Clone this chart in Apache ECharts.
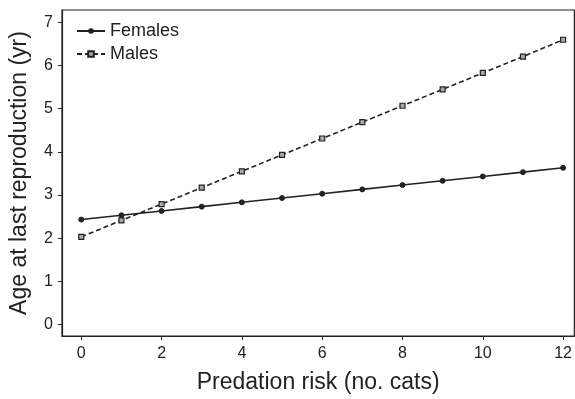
<!DOCTYPE html>
<html>
<head>
<meta charset="utf-8">
<script src="https://cdn.jsdelivr.net/npm/echarts@6/dist/echarts.min.js"></script>
<style>
  html, body { margin: 0; padding: 0; background: #fff; }
  #chart { width: 575px; height: 399px; }
</style>
</head>
<body>
<div id="chart"></div>
<script>
// predation risk (number of cats)
const cats = [0, 1, 2, 3, 4, 5, 6, 7, 8, 9, 10, 11, 12];
const females = [2.43, 2.53, 2.63, 2.73, 2.83, 2.93, 3.03, 3.13, 3.23, 3.33, 3.43, 3.53, 3.63];
const males = [2.03, 2.41, 2.79, 3.17, 3.55, 3.93, 4.31, 4.69, 5.07, 5.45, 5.83, 6.21, 6.60];
const xTicks = [0, 2, 4, 6, 8, 10, 12];
const yTicks = [0, 1, 2, 3, 4, 5, 6, 7];

const ink = '#222';
const font = '"Liberation Sans", Arial, sans-serif';

const chart = echarts.init(document.getElementById('chart'));

const pairs = (ys) => cats.map((c, i) => [c, ys[i]]);

chart.setOption({
  animation: false,
  textStyle: { fontFamily: font },
  grid: {
    left: 62, right: -2, top: 10, bottom: 58,
    show: true, borderColor: ink, borderWidth: 1.2
  },
  legend: {
    left: 71, top: 17, orient: 'vertical',
    itemWidth: 28, itemHeight: 7, itemGap: 5,
    textStyle: { color: ink, fontSize: 18, fontFamily: font },
    data: ['Females', 'Males']
  },
  xAxis: {
    type: 'value', min: -0.48, max: 12.28,
    name: 'Predation risk (no. cats)', nameLocation: 'middle', nameGap: 35,
    nameTextStyle: { color: ink, fontSize: 23, fontFamily: font },
    axisLine: { show: true, onZero: false, lineStyle: { color: ink, width: 1.2 } },
    axisTick: { show: true, length: 4, customValues: xTicks, lineStyle: { color: ink } },
    axisLabel: { customValues: xTicks, color: ink, fontSize: 16, margin: 10 },
    splitLine: { show: false }
  },
  yAxis: {
    type: 'value', min: -0.27, max: 7.29,
    name: 'Age at last reproduction (yr)', nameLocation: 'middle', nameGap: 31,
    nameTextStyle: { color: ink, fontSize: 23, fontFamily: font },
    axisLine: { show: true, onZero: false, lineStyle: { color: ink, width: 1.2 } },
    axisTick: { show: true, length: 4, customValues: yTicks, lineStyle: { color: ink } },
    axisLabel: { customValues: yTicks, color: ink, fontSize: 16, margin: 9 },
    splitLine: { show: false }
  },
  series: [
    {
      name: 'Females', type: 'line', data: pairs(females),
      symbol: 'circle', symbolSize: 5,
      lineStyle: { color: ink, width: 1.6 },
      itemStyle: { color: ink, borderColor: ink }
    },
    {
      name: 'Males', type: 'line', data: pairs(males),
      symbol: 'rect', symbolSize: 5,
      lineStyle: { color: ink, width: 1.6, type: [5, 3] },
      itemStyle: { color: '#aaa', borderColor: ink, borderWidth: 1.2 }
    }
  ]
});
</script>
</body>
</html>
